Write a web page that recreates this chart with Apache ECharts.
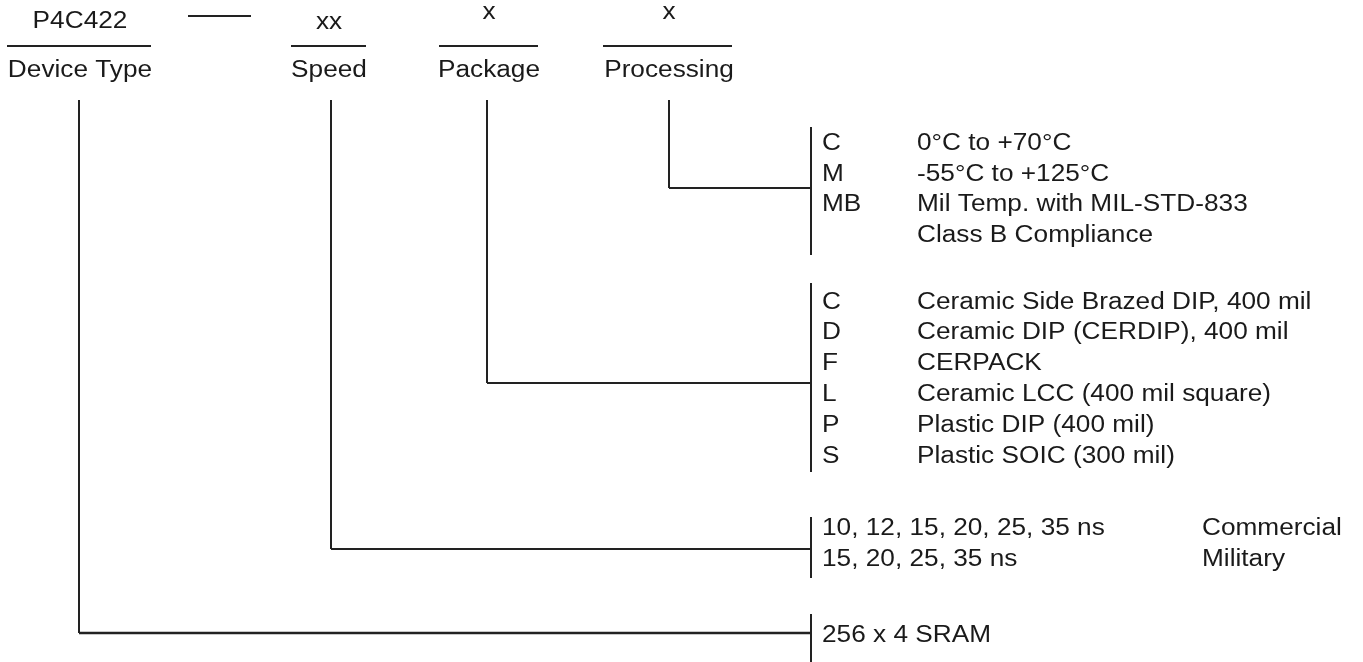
<!DOCTYPE html>
<html>
<head>
<meta charset="utf-8">
<script src="https://cdn.jsdelivr.net/npm/echarts@6/dist/echarts.min.js"></script>
<style>
html,body{margin:0;padding:0;background:#fff;}
#main{width:1363px;height:662px;}
</style>
</head>
<body>
<div id="main"></div>
<script>
// ---- content (text of the ordering-information diagram) ----
const fieldLabels = ['Device Type', 'Speed', 'Package', 'Processing'];
const fieldCodes = ['P4C422', 'xx', 'x', 'x'];
const processingCodes = ['C', 'M', 'MB', ''];
const processingDescs = ['0°C to +70°C', '-55°C to +125°C', 'Mil Temp. with MIL-STD-833', 'Class B Compliance'];
const packageCodes = ['C', 'D', 'F', 'L', 'P', 'S'];
const packageDescs = ['Ceramic Side Brazed DIP, 400 mil', 'Ceramic DIP (CERDIP), 400 mil', 'CERPACK',
  'Ceramic LCC (400 mil square)', 'Plastic DIP (400 mil)', 'Plastic SOIC (300 mil)'];
const speedValues = ['10, 12, 15, 20, 25, 35 ns', '15, 20, 25, 35 ns'];
const speedGrades = ['Commercial', 'Military'];
const deviceDescs = ['256 x 4 SRAM'];

// ---- layout (diagram coordinate system: 0..1363 x, 0..662 y) ----
const layout = {
  labelCenterX: [80, 329, 489, 669],
  codeY: [22, 23, 13, 13],
  underline: [[7, 151], [291, 366], [439, 538], [603, 732]],
  underlineY: 46,
  labelY: 71,
  dash: [188, 251, 16],
  trunkX: [79, 331, 487, 669],
  trunkTop: 100,
  branchY: [633, 549, 383, 188],   // device, speed, package, processing
  bracketX: 811,
  brackets: [[614, 662], [517, 578], [283, 472], [127, 255]],
  codeX: 822,
  descX: 917,
  gradeX: 1202,
  processingRows: [144, 175, 205, 236],
  packageRows: [303, 333, 364, 395, 426, 457],
  speedRows: [529, 560],
  deviceRows: [636]
};

// ---- build drawing items ----
const texts = [];   // [x, y, text, align]
const segs = [];    // [x1, y1, x2, y2, width]

fieldLabels.forEach((t, i) => {
  texts.push([layout.labelCenterX[i], layout.labelY, t, 'center']);
  texts.push([layout.labelCenterX[i], layout.codeY[i], fieldCodes[i], 'center']);
  segs.push([layout.underline[i][0], layout.underlineY, layout.underline[i][1], layout.underlineY, 2]);
});
segs.push([layout.dash[0], layout.dash[2], layout.dash[1], layout.dash[2], 2]);

[0, 1, 2, 3].forEach(i => {
  const by = layout.branchY[i];
  segs.push([layout.trunkX[i], layout.trunkTop, layout.trunkX[i], by, 2]);
  segs.push([layout.trunkX[i], by, layout.bracketX, by, i === 0 ? 2.6 : 2]);
  segs.push([layout.bracketX, layout.brackets[i][0], layout.bracketX, layout.brackets[i][1], 2]);
});

processingCodes.forEach((c, k) => {
  texts.push([layout.codeX, layout.processingRows[k], c, 'left']);
  texts.push([layout.descX, layout.processingRows[k], processingDescs[k], 'left']);
});
packageCodes.forEach((c, k) => {
  texts.push([layout.codeX, layout.packageRows[k], c, 'left']);
  texts.push([layout.descX, layout.packageRows[k], packageDescs[k], 'left']);
});
speedValues.forEach((s, k) => {
  texts.push([layout.codeX, layout.speedRows[k], s, 'left']);
  texts.push([layout.gradeX, layout.speedRows[k], speedGrades[k], 'left']);
});
deviceDescs.forEach((s, k) => {
  texts.push([layout.codeX, layout.deviceRows[k], s, 'left']);
});

const FONT = "'Liberation Sans', Arial, Helvetica, sans-serif";
const FONT_SIZE = 23;
const STRETCH = 1.14;
const INK = '#1a1a1a';
const LINE = '#222';

const chart = echarts.init(document.getElementById('main'), null, {renderer: 'canvas'});
chart.setOption({
  backgroundColor: '#fff',
  animation: false,
  grid: {left: 0, right: 0, top: 0, bottom: 0},
  xAxis: {type: 'value', min: 0, max: 1363, show: false},
  yAxis: {type: 'value', min: 0, max: 662, inverse: true, show: false},
  series: [
    {
      type: 'custom',
      name: 'lines',
      data: segs,
      encode: {x: [0, 2], y: [1, 3]},
      renderItem: function (params, api) {
        const p1 = api.coord([api.value(0), api.value(1)]);
        const p2 = api.coord([api.value(2), api.value(3)]);
        return {
          type: 'line',
          shape: {x1: p1[0], y1: p1[1], x2: p2[0], y2: p2[1]},
          style: {stroke: LINE, lineWidth: api.value(4)}
        };
      },
      silent: true
    },
    {
      type: 'custom',
      name: 'texts',
      data: texts,
      encode: {x: 0, y: 1},
      dimensions: ['x', 'y', {name: 'text', type: 'ordinal'}, {name: 'align', type: 'ordinal'}],
      renderItem: function (params, api) {
        const item = texts[params.dataIndex];
        const p = api.coord([item[0], item[1]]);
        return {
          type: 'text',
          x: p[0],
          y: p[1],
          scaleX: STRETCH,
          style: {
            x: 0, y: 0,
            text: item[2],
            fill: INK,
            font: FONT_SIZE + 'px ' + FONT,
            align: item[3],
            verticalAlign: 'middle'
          }
        };
      },
      silent: true
    }
  ]
});
</script>
</body>
</html>
